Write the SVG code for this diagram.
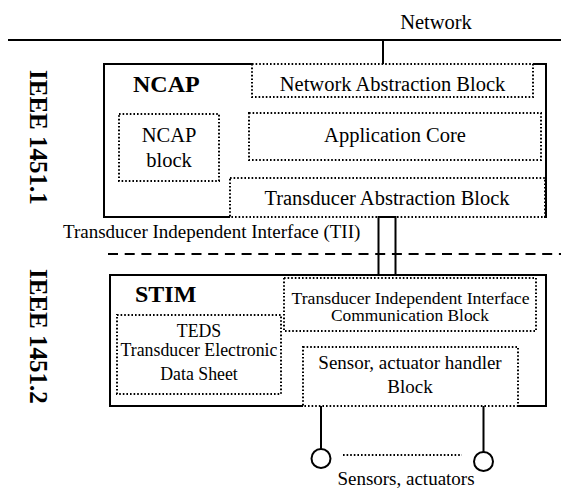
<svg xmlns="http://www.w3.org/2000/svg" width="561" height="489" viewBox="0 0 561 489">
  <style>
    text { font-family: "Liberation Serif", "Times New Roman", serif; fill: #000; }
    .c { text-anchor: middle; }
    .f20 { font-size: 20.5px; }
    .f19 { font-size: 19px; }
    .f18 { font-size: 17.8px; }
    .f16 { font-size: 16px; }
    .title { font-size: 24px; font-weight: bold; }
    .side { font-size: 25px; font-weight: bold; }
    .solid { fill: none; stroke: #000; stroke-width: 2; }
    .dot { fill: none; stroke: #000; stroke-width: 2; stroke-dasharray: 1.6 2; }
    .dash { fill: none; stroke: #000; stroke-width: 2; stroke-dasharray: 10 6.7; }
    .node { fill: #fff; stroke: #000; stroke-width: 2; }
  </style>
  <rect width="561" height="489" fill="#fff"/>

  <!-- layer labels -->
  <g id="layer-labels">
    <text class="side" transform="translate(29.5,70) rotate(90)">IEEE 1451.1</text>
    <text class="side" transform="translate(29.5,269) rotate(90)">IEEE 1451.2</text>
  </g>

  <!-- network bus -->
  <g id="network">
    <text class="f20 c" x="436" y="29">Network</text>
    <path class="solid" d="M8 40 H561"/>
  </g>

  <!-- NCAP (IEEE 1451.1) -->
  <g id="ncap">
    <path class="solid" d="M252 64 H104 V217 H230 M533 64 H546 V217 H544"/>
    <text class="title" x="133" y="92">NCAP</text>
  </g>
  <g id="network-abstraction-block">
    <rect class="dot" x="252" y="64" width="281" height="33"/>
    <text class="f20 c" x="392.5" y="91">Network Abstraction Block</text>
  </g>
  <g id="ncap-block">
    <rect class="dot" x="119" y="114" width="100" height="67"/>
    <text class="f20 c" x="169" y="142">NCAP</text>
    <text class="f20 c" x="169" y="167">block</text>
  </g>
  <g id="application-core">
    <rect class="dot" x="249" y="113" width="292" height="47"/>
    <text class="f20 c" x="395" y="142">Application Core</text>
  </g>
  <g id="transducer-abstraction-block">
    <rect class="dot" x="230" y="178" width="315" height="39"/>
    <text class="f20 c" x="387" y="205">Transducer Abstraction Block</text>
  </g>

  <!-- TII label -->
  <g id="tii-label">
    <text class="f19" x="63" y="238">Transducer Independent Interface (TII)</text>
  </g>

  <!-- STIM (IEEE 1451.2) -->
  <g id="stim">
    <path class="solid" d="M303 406 H110 V275 H546 V406 H518"/>
    <text class="title" x="135" y="302">STIM</text>
  </g>
  <g id="tii-communication-block">
    <rect class="dot" x="284" y="278" width="252" height="53"/>
    <text class="f16 c" x="410.5" y="304" textLength="238" lengthAdjust="spacingAndGlyphs">Transducer Independent Interface</text>
    <text class="f16 c" x="410" y="321" textLength="158" lengthAdjust="spacingAndGlyphs">Communication Block</text>
  </g>
  <g id="teds">
    <rect class="dot" x="117" y="315" width="164" height="79"/>
    <text class="f18 c" x="199" y="337">TEDS</text>
    <text class="f18 c" x="199" y="356">Transducer Electronic</text>
    <text class="f18 c" x="199" y="380">Data Sheet</text>
  </g>
  <g id="sensor-actuator-handler-block">
    <rect class="dot" x="303" y="347" width="215" height="59"/>
    <text class="f19 c" x="410" y="369">Sensor, actuator handler</text>
    <text class="f19 c" x="410" y="393">Block</text>
  </g>

  <!-- sensors and actuators -->
  <g id="sensors">
    <circle class="node" cx="321" cy="458.5" r="9.5"/>
    <circle class="node" cx="483.5" cy="461.5" r="9.5"/>
    <text class="f19 c" x="406" y="485">Sensors, actuators</text>
  </g>

  <!-- connectors -->
  <g id="connectors">
    <path class="solid" d="M383 40 V64"/>
    <rect class="solid" x="378.5" y="217" width="17" height="58"/>
    <path class="dash" d="M108 254 H561"/>
    <path class="solid" d="M321 406 V449 M483.5 406 V452"/>
    <path class="dot" d="M343 455 H462"/>
  </g>
</svg>
